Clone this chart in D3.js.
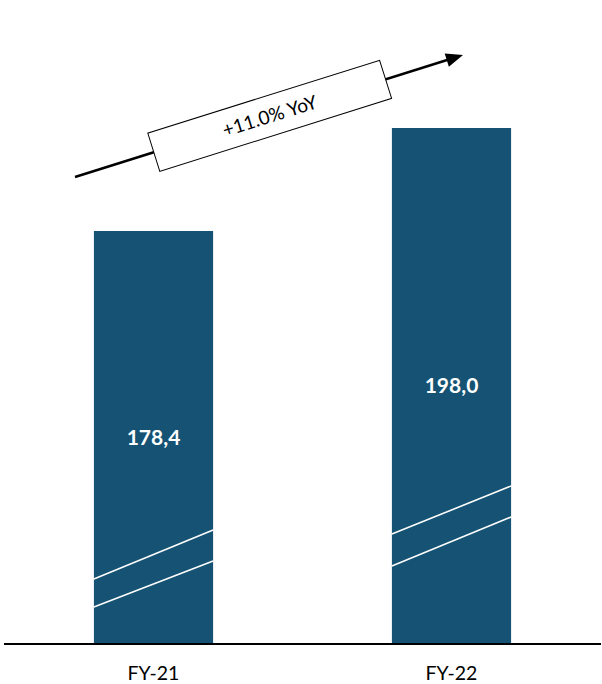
<!DOCTYPE html>
<html>
<head>
<meta charset="utf-8">
<script src="https://cdn.jsdelivr.net/npm/d3@7/dist/d3.min.js"></script>
<style>
  html, body { margin: 0; padding: 0; background: #ffffff; }
  svg { display: block; }
</style>
</head>
<body>
<svg id="chart" width="602" height="684"></svg>
<script>
// Fiscal-year totals
const categories = ["FY-21", "FY-22"];
const values = [178.4, 198.0];
const growthLabel = "+11.0% YoY";

const barColor = "#155273";
const baseY = 643;

const svg = d3.select("#chart");

// Truncated value axis (axis break drawn on each bar)
const x = d3.scaleBand()
  .domain(categories)
  .range([4, 601])
  .paddingInner(0.6)
  .paddingOuter(0.3017);

const y = d3.scaleLinear()
  .domain([100, 200])
  .range([baseY, 117.5]);

const fmt = v => d3.format(".1f")(v).replace(".", ",");

// Bars
const bars = svg.append("g").selectAll("g")
  .data(categories.map((c, i) => ({ c, v: values[i], i })))
  .join("g");

bars.append("rect")
  .attr("x", d => x(d.c))
  .attr("y", d => y(d.v))
  .attr("width", x.bandwidth())
  .attr("height", d => y.range()[0] - y(d.v))
  .attr("fill", barColor);

// Axis-break strokes: [left rise, right rise] above the base for each line
const breakStrokes = [
  [[64, 113], [36, 82]],
  [[109, 157], [77, 126]]
];
bars.each(function (d) {
  const g = d3.select(this);
  breakStrokes[d.i].forEach(([l, r]) => {
    g.append("line")
      .attr("x1", x(d.c)).attr("y1", baseY - l)
      .attr("x2", x(d.c) + x.bandwidth()).attr("y2", baseY - r)
      .attr("stroke", "#ffffff")
      .attr("stroke-width", 1.6);
  });
});

// Value labels centred in each bar
bars.append("text")
  .attr("x", d => x(d.c) + x.bandwidth() / 2)
  .attr("y", d => (y(d.v) + baseY) / 2)
  .attr("dy", "0.36em")
  .attr("text-anchor", "middle")
  .attr("fill", "#ffffff")
  .attr("font-family", "Lato, 'Open Sans', sans-serif")
  .attr("font-weight", "bold")
  .attr("font-size", 21)
  .text(d => fmt(d.v));

// Baseline
svg.append("line")
  .attr("x1", 4).attr("x2", 601)
  .attr("y1", baseY + 1).attr("y2", baseY + 1)
  .attr("stroke", "#000000")
  .attr("stroke-width", 2);

// Category axis labels
const xAxis = svg.append("g")
  .attr("transform", `translate(0,${baseY + 1})`)
  .call(d3.axisBottom(x).tickSize(0).tickPadding(22));
xAxis.select(".domain").remove();
xAxis.selectAll("text")
  .attr("font-family", "Lato, 'Open Sans', sans-serif")
  .attr("font-size", 19.5)
  .attr("fill", "#000000");

// Growth arrow with label box
const start = [75, 177], tip = [463, 55];
const dx = tip[0] - start[0], dy = tip[1] - start[1];
const len = Math.hypot(dx, dy);
const ux = dx / len, uy = dy / len;
const headLen = 17, headHalf = 7;
const base = [tip[0] - ux * headLen, tip[1] - uy * headLen];

svg.append("line")
  .attr("x1", start[0]).attr("y1", start[1])
  .attr("x2", base[0] + ux * 2).attr("y2", base[1] + uy * 2)
  .attr("stroke", "#000000")
  .attr("stroke-width", 2.5);

svg.append("path")
  .attr("d", d3.line()([
    tip,
    [base[0] - uy * headHalf, base[1] + ux * headHalf],
    [base[0] + uy * headHalf, base[1] - ux * headHalf]
  ]) + "Z")
  .attr("fill", "#000000");

const angle = Math.atan2(dy, dx) * 180 / Math.PI;
const boxCx = 269.7, boxCy = start[1] + (269.7 - start[0]) * (dy / dx);
const box = svg.append("g")
  .attr("transform", `translate(${boxCx},${boxCy}) rotate(${angle})`);
box.append("rect")
  .attr("x", -121.5).attr("y", -20)
  .attr("width", 243).attr("height", 40)
  .attr("fill", "#ffffff")
  .attr("stroke", "#000000")
  .attr("stroke-width", 1);
box.append("text")
  .attr("text-anchor", "middle")
  .attr("dy", "0.36em")
  .attr("font-family", "Lato, 'Open Sans', sans-serif")
  .attr("font-size", 19)
  .attr("fill", "#000000")
  .text(growthLabel);
</script>
</body>
</html>
